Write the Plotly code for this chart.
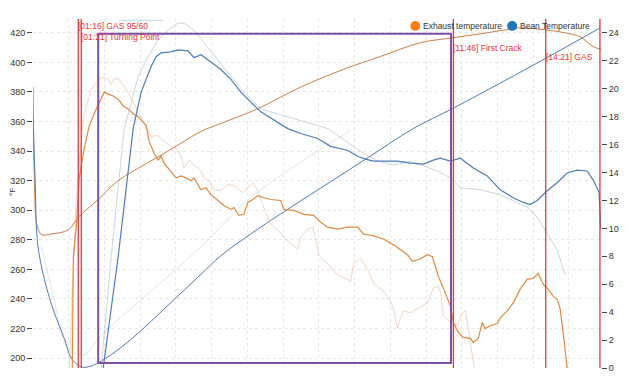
import plotly.graph_objects as go

# ---------------- data (time in seconds) ----------------
bt_time = [0, 0.7, 4.0, 7.4, 19.1, 35.8, 52.6, 64.3, 81.1, 97.8, 114.6, 148.1, 181.6, 215.1, 248.6,
           282.1, 315.6, 365.8, 432.8, 499.8, 566.8, 638.8, 704.1, 784.6, 863.4, 952.2]
bt_temp = [383.3, 358.7, 315.3, 278.7, 253.3, 230.7, 213.3, 200.0, 194.0, 194.7, 198.0, 207.3, 218.7,
           231.3, 244.0, 256.7, 269.3, 284.0, 302.0, 319.3, 336.7, 355.3, 368.7, 386.0, 403.3, 423.3]

et_time = [0, 2.3, 5.7, 10.7, 15.7, 30.8, 59.3, 76.0, 109.5, 143.0, 186.6, 226.8, 282.1, 315.6, 377.6,
           449.6, 521.6, 583.6, 650.6, 705.9, 751.1, 793.0, 818.1, 860.0, 893.5, 918.7, 940.5, 955.0]
et_temp = [362, 322, 292, 285.3, 283.3, 284, 286.7, 295.3, 307.3, 320, 330.7, 340, 353.3, 358.7, 368.7,
           383.3, 395.3, 404, 413.3, 416.7, 419.3, 422, 423.3, 422, 420, 417.3, 410.7, 408.7]

br_time = [100, 117.9, 143.0, 156.4, 168.2, 181.6, 198.3, 206.7, 215.1, 231.8, 243.6, 260.3, 270.4, 282.1,
           298.8, 315.6, 332.3, 349.1, 365.8, 382.6, 427.8, 449.6, 478.1, 499.8, 528.3, 545.0, 558.4, 571.9,
           588.6, 612.0, 633.8, 655.5, 672.4, 684.1, 700.8, 717.6, 739.4, 762.8, 784.6, 806.4, 823.1, 834.8,
           846.6, 863.4, 880.1, 896.9, 913.6, 930.4, 940.5, 950.5, 953.5]
br_ror = [-2, 0, 7.97, 12.91, 17.15, 19.76, 21.59, 22.3, 22.58, 22.65, 22.79, 22.72, 22.23, 22.44, 21.88,
          21.38, 20.68, 19.76, 19.05, 18.35, 17.15, 16.8, 16.44, 15.88, 15.6, 15.17, 14.96, 14.82, 14.82,
          14.82, 14.68, 14.61, 14.89, 15.03, 14.82, 15.03, 14.33, 13.76, 12.77, 12.2, 11.86, 11.71, 12.0,
          12.7, 13.27, 13.97, 14.18, 14.11, 13.48, 12.6, 9.95]

er_time = [66.0, 67.7, 72.7, 77.7, 86.1, 94.5, 106.2, 114.6, 119.6, 126.3, 134.7, 143.0, 151.4, 159.8,
           168.2, 176.5, 184.9, 190.0, 195.0, 203.3, 210.0, 215.1, 220.1, 231.8, 240.2, 248.6, 257.0, 265.3,
           270.4, 277.1, 282.1, 290.4, 298.8, 310.5, 320.6, 332.3, 337.4, 345.7, 354.1, 360.8, 369.2, 377.5,
           385.9, 399.3, 416.1, 421.1, 437.8, 454.6, 471.3, 483.1, 494.8, 511.5, 528.3, 545.0, 555.1, 571.9,
           588.6, 605.4, 617.1, 628.8, 637.2, 650.6, 662.3, 670.7, 675.7, 680.7, 689.1, 700.8, 705.9, 714.2,
           722.6, 734.3, 739.4, 747.7, 754.4, 759.5, 767.9, 779.6, 784.6, 796.3, 806.4, 818.1, 829.8, 839.9,
           848.3, 856.7, 865.0, 873.4, 880.1, 885.1, 890.2, 896.9, 905]
er_ror = [0, 7.97, 10.09, 13.62, 15.74, 17.36, 18.56, 19.27, 19.76, 19.62, 19.48, 19.27, 18.77, 18.56,
          18.21, 18.0, 17.64, 17.36, 16.23, 15.38, 14.89, 15.17, 14.68, 14.11, 13.62, 13.76, 13.62, 13.41,
          13.62, 13.13, 12.77, 12.91, 12.42, 12.0, 11.64, 11.36, 11.5, 10.94, 11.01, 11.86, 12.07, 12.35,
          12.21, 12.07, 12.0, 11.36, 11.29, 11.01, 10.94, 10.44, 10.09, 9.95, 10.09, 10.09, 9.6, 9.46,
          9.24, 8.82, 8.47, 8.12, 7.62, 7.83, 8.12, 7.97, 7.27, 6.56, 5.72, 4.45, 3.25, 2.54,
          2.19, 2.12, 1.83, 2.12, 3.25, 2.82, 3.03, 3.18, 3.6, 4.09, 4.66, 5.65, 6.35, 6.42,
          6.77, 6.0, 5.65, 5.15, 4.94, 4.23, 2.54, 0, -2]

# faint (raw) rate-of-rise curves
fr_time = [100, 114.6, 131.3, 153.1, 176.6, 193.3, 210.0, 226.8, 243.6, 253.6, 270.4, 287.1, 310.6, 332.3,
           354.1, 382.6, 433.0, 495.3, 550.0, 578.5, 605.4, 633.8, 679.1, 700.8, 717.6, 751.1, 784.6, 806.4,
           829.8, 846.6, 863.4, 880.1, 893.5]
fr_ror = [-2, 0, 7.97, 17.15, 20.89, 22.3, 23.5, 24.2, 24.7, 24.7, 24.2, 23.29, 22.09, 20.89, 19.76, 18.56,
          17.92, 17.15, 15.52, 14.82, 14.54, 14.82, 14.11, 13.62, 12.91, 12.77, 12.42, 12.0, 11.5, 10.8, 9.6,
          8.47, 6.7]

fe_time = [61.0, 72.7, 84.4, 97.8, 114.6, 126.3, 131.3, 136.3, 143.0, 156.4, 168.2, 176.6, 186.6, 198.3,
           210.0, 220.1, 231.8, 240.2, 248.6, 253.6, 262.0, 270.4, 282.1, 287.1, 295.5, 303.9, 315.6, 327.3,
           337.4, 352.4, 360.8, 369.2, 377.6, 387.6, 399.3, 411.1, 421.1, 432.8, 444.5, 449.6, 461.3, 469.7,
           474.7, 479.8, 486.5, 494.8, 504.9, 516.6, 528.3, 533.3, 538.4, 550.1, 561.8, 571.9, 588.6, 600.4,
           605.4, 612.1, 617.1, 622.2, 633.9, 645.6, 662.4, 672.4, 679.1, 684.1, 689.1, 700.8, 712.6, 721.0,
           726.0, 731.0, 737.7, 741.1, 748]
fe_ror = [0, 12.21, 17.85, 19.97, 20.82, 20.68, 20.32, 20.68, 20.75, 19.97, 19.05, 18.35, 17.5, 16.58,
          16.65, 16.23, 15.88, 15.74, 15.17, 14.33, 14.89, 14.54, 14.11, 13.62, 13.41, 12.77, 12.7, 13.13,
          13.06, 12.56, 12.91, 13.27, 12.7, 11.5, 10.3, 9.88, 9.39, 8.89, 8.54, 9.39, 9.95, 10.09,
          9.17, 8.12, 7.76, 7.48, 6.92, 6.56, 6.35, 6.21, 7.48, 7.83, 7.06, 6.07, 5.5, 4.8,
          4.23, 2.89, 3.6, 4.09, 3.95, 4.23, 4.66, 5.72, 5.86, 5.5, 3.74, 3.25, 3.03, 3.95,
          4.09, 2.82, 1.13, 0, -2]

clip_time = [144.8, 219.1]
clip_ror = [24.9, 24.9]

# faint background bean profile
bg_time = [14.1, 34.2, 55.9, 84.4, 114.6, 282.1, 365.8, 533.3]
bg_temp = [275.3, 242, 208.7, 202, 215.3, 275.3, 308.7, 354]

# events
event_times = [76, 81, 706, 861, 952]
event_labels = ["[01:16] GAS 95/60", "[01:21] Turning Point", "[11:46] First Crack", "[14:21] GAS", ""]
event_label_y = [0.980, 0.949, 0.918, 0.890, 0.86]

# selection box (time, temperature)
box_time = [109.5, 702.0]
box_temp = [196.7, 419.3]

temp_ticks = list(range(200, 421, 20))
ror_ticks = list(range(0, 25, 2))

# ---------------- figure ----------------
BLUE = '#4f7db3'
ORANGE_T = '#c97d4c'
ORANGE_R = '#de8a45'
RED = '#e8343c'
PURPLE = '#7f4fa6'
FONT = 'Liberation Sans, Arial, sans-serif'

fig = go.Figure()


def line(x, y, color, width=1.1, axis='y', shape='linear', dash='solid'):
    fig.add_trace(go.Scatter(x=x, y=y, mode='lines', yaxis=axis, hoverinfo='skip', showlegend=False,
                             line=dict(color=color, width=width, shape=shape, dash=dash)))


line(bg_time, bg_temp, 'rgba(170,180,195,0.35)', 1, 'y', 'spline')
line(clip_time, clip_ror, 'rgba(120,170,220,0.45)', 1, 'y2')
line(fe_time, fe_ror, 'rgba(225,150,110,0.40)', 1, 'y2')
line(fr_time, fr_ror, 'rgba(140,160,190,0.45)', 1, 'y2')
line(et_time, et_temp, ORANGE_T, 1.0, 'y', 'spline')
line(bt_time, bt_temp, BLUE, 1.0, 'y', 'spline')
line(er_time, er_ror, ORANGE_R, 1.2, 'y2')
line(br_time, br_ror, BLUE, 1.2, 'y2')

shapes = []
for t in event_times:
    shapes.append(dict(type='line', xref='x', yref='paper', x0=t, x1=t, y0=0, y1=1,
                       line=dict(color=RED, width=1.3), layer='above'))
shapes.append(dict(type='rect', xref='x', yref='y', x0=box_time[0], x1=box_time[1],
                   y0=box_temp[0], y1=box_temp[1], line=dict(color=PURPLE, width=2), layer='above'))

annotations = []
for t, lab, yy in zip(event_times, event_labels, event_label_y):
    if lab:
        annotations.append(dict(x=t, y=yy, xref='x', yref='paper', text=lab, showarrow=False,
                                xanchor='left', yanchor='middle', xshift=-1, borderpad=0,
                                font=dict(family=FONT, size=8.5, color=RED)))

# legend (dots + text)
legend_items = [("Exhaust temperature", '#ff7f0e', 0.6731), ("Bean Temperature", '#1f77b4', 0.8436)]
for name, col, cx in legend_items:
    shapes.append(dict(type='circle', xref='paper', yref='paper', x0=cx - 0.0088, x1=cx + 0.0088,
                       y0=0.9802 - 0.0141, y1=0.9802 + 0.0141, fillcolor=col, line=dict(width=0),
                       layer='above'))
    annotations.append(dict(x=cx + 0.0115, y=0.9802, xref='paper', yref='paper', text=name,
                            showarrow=False, xanchor='left', yanchor='middle', borderpad=0,
                            font=dict(family=FONT, size=8.5, color='#333')))

annotations.append(dict(x=-0.0475, y=0.503, xref='paper', yref='paper', text='°F', textangle=-90,
                        showarrow=False, font=dict(family=FONT, size=8, color='#333')))

GRID = '#e8e8e8'
fig.update_layout(
    width=640, height=383, autosize=False,
    margin=dict(l=32, r=39, t=19, b=10, pad=0),
    paper_bgcolor='white', plot_bgcolor='white',
    font=dict(family=FONT, size=9, color='#333'),
    showlegend=False,
    shapes=shapes, annotations=annotations,
    xaxis=dict(range=[0, 953.8], tick0=0, dtick=60, showticklabels=False, ticks='',
               showgrid=True, gridcolor=GRID, griddash='3px,3px', gridwidth=1, zeroline=False,
               showline=False),
    yaxis=dict(range=[193.33, 429.33], tickvals=temp_ticks, ticks='outside', ticklen=5,
               tickcolor='#444', tickfont=dict(size=9, color='#333'), showgrid=True, gridcolor=GRID,
               griddash='3px,3px', zeroline=False, showline=False),
    yaxis2=dict(range=[0, 25], tickvals=ror_ticks, overlaying='y', side='right', ticks='outside',
                ticklen=5, tickcolor='#444', tickfont=dict(size=9, color='#333'), showgrid=False,
                zeroline=False, showline=False),
)

fig.write_html("out.html")
